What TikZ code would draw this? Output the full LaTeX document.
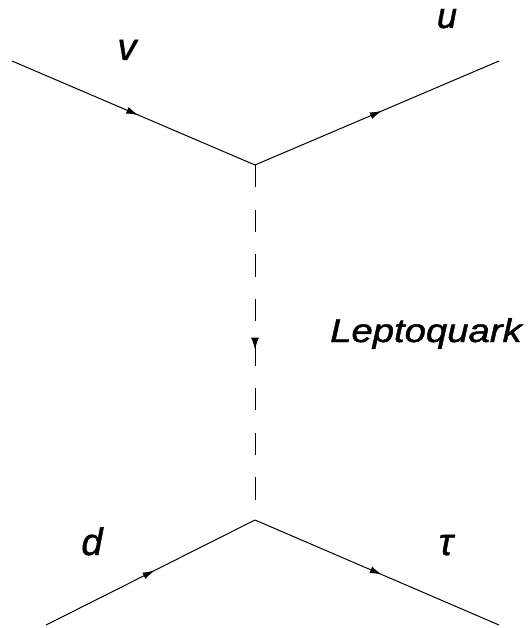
\documentclass[tikz,border=0pt]{standalone}
\usepackage{fontspec}
\setmainfont{Liberation Sans}
\newfontfamily\lblfont[FakeBold=1.2]{Liberation Sans}
\usetikzlibrary{decorations.markings,arrows.meta}
\begin{document}
\begin{tikzpicture}[x=1pt,y=-1pt,
  fermion/.style={line width=1pt, postaction={decorate},
    decoration={markings, mark=at position 0.52 with {\arrow{Latex[length=12pt,width=7pt]}}}},
  lq/.style={line width=1pt, dash pattern=on 22.3pt off 22.3pt, postaction={decorate},
    decoration={markings, mark=at position 0.52 with {\arrow[solid]{Latex[length=12pt,width=8pt]}}}},
  lbl/.style={font=\lblfont\itshape\fontsize{38}{40}\selectfont, anchor=base, inner sep=0pt},
  lqlbl/.style={font=\lblfont\itshape\fontsize{33}{36}\selectfont, anchor=base west, inner sep=0pt}]
\useasboundingbox (0,0) rectangle (530,628);
\coordinate (a) at (12,61);
\coordinate (b) at (499,61);
\coordinate (top) at (255,165);
\coordinate (bot) at (255,520);
\coordinate (c) at (46,625);
\coordinate (e) at (499,625);
\draw[fermion] (a) -- (top);
\draw[fermion] (top) -- (b);
\draw[fermion] (c) -- (bot);
\draw[fermion] (bot) -- (e);
\draw[lq] (top) -- (bot);
\node[lbl] (v) at (127,60) {v};
\node[lbl, font=\lblfont\itshape\fontsize{36}{38}\selectfont] (u) at (447,28) {u};
\node[lbl] (d) at (92,555) {d};
\node[lbl] (tau) at (446,555) {τ};
\node[lqlbl] (lqt) at (330,342) {\scalebox{1.16}[1]{Leptoquark}};
\end{tikzpicture}
\end{document}
